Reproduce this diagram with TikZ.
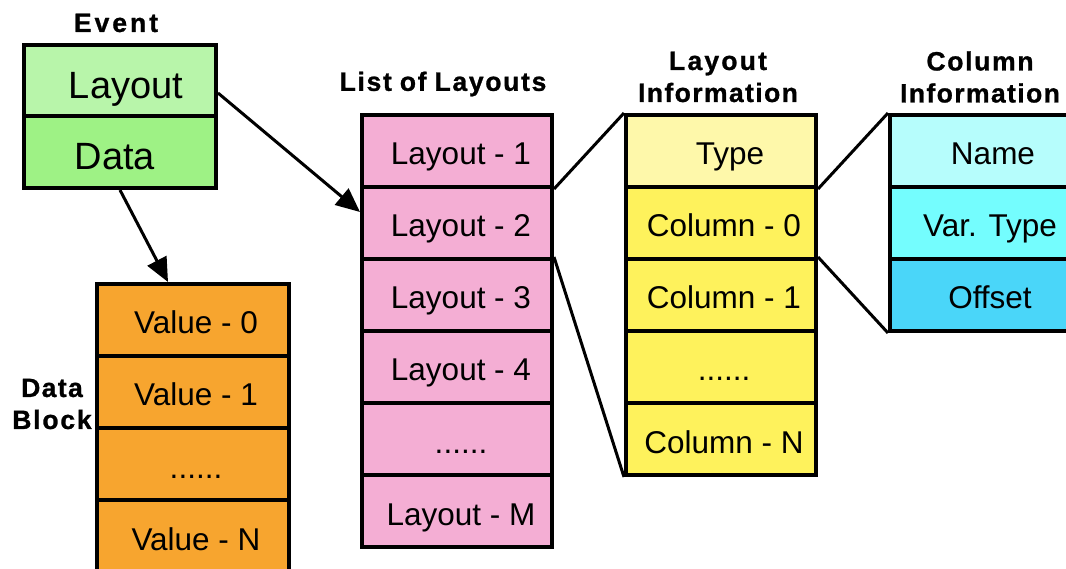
\documentclass[tikz,border=0pt]{standalone}
\usepackage{fontspec}
\setmainfont{Liberation Sans}[BoldFeatures={FakeBold=1}]
\usetikzlibrary{arrows.meta}

% letter-spaced words for the headings
\makeatletter
\newcommand\spaceout[2][2pt]{\@tfor\sp@c:=#2\do{\sp@c\kern#1}\unkern}
\makeatother
\newcommand\wgap{\hspace{8pt}}

\definecolor{evlay}{HTML}{B8F5AA}
\definecolor{evdat}{HTML}{9EF285}
\definecolor{dblk}{HTML}{F7A52F}
\definecolor{lpink}{HTML}{F4AED4}
\definecolor{ltype}{HTML}{FEF8AA}
\definecolor{lcol}{HTML}{FEF25C}
\definecolor{cname}{HTML}{B6FDFC}
\definecolor{cvar}{HTML}{74FDFE}
\definecolor{coff}{HTML}{4AD6F9}

\tikzset{
  cell/.style={draw=black, line width=4pt, minimum width=190pt,
    minimum height=72pt, inner sep=0pt, text height=28pt, text depth=0pt,
    font=\fontsize{31.5}{36}\selectfont},
  bigcell/.style={cell, minimum width=192pt},
  evcell/.style={bigcell, text height=36pt, font=\fontsize{38}{44}\selectfont},
  heading/.style={align=center, inner sep=0pt,
    font=\bfseries\fontsize{26.5}{32}\selectfont},
  zoomline/.style={line width=3pt},
  pointer/.style={line width=3pt, -{Triangle[length=24pt,width=21pt]}}
}

\begin{document}
\begin{tikzpicture}[x=1pt, y=-1pt]
  \clip (0,0) rectangle (1066,569);
  \fill[white] (0,0) rectangle (1066,569);

  % Event record
  \node[heading] (evhead) at (116,23) {\spaceout[3pt]{Event}};
  \node[evcell, fill=evlay] (evl) at (120,81) {\hspace*{12pt}Layout};
  \node[evcell, fill=evdat] (evd) at (120,152) {Data\hspace*{10pt}};

  % Data block
  \node[heading] (dbhead) at (52,404) {\spaceout[1.4pt]{Data}\\\spaceout[1.8pt]{Block}};
  \node[bigcell, fill=dblk] (db0) at (193,320) {\hspace*{6pt}Value - 0};
  \node[bigcell, fill=dblk] (db1) at (193,392) {\hspace*{6pt}Value - 1};
  \node[bigcell, fill=dblk] (db2) at (193,464) {\hspace*{6pt}......};
  \node[bigcell, fill=dblk] (db3) at (193,536) {\hspace*{6pt}Value - N};

  % List of layouts
  \node[heading] (lhead) at (443,84) {\spaceout[1.7pt]{List}\wgap\spaceout[1.7pt]{of}\wgap\spaceout[1.7pt]{Layouts}};
  \node[cell, fill=lpink] (l1) at (457,151) {\hspace*{8pt}Layout - 1};
  \node[cell, fill=lpink] (l2) at (457,223) {\hspace*{8pt}Layout - 2};
  \node[cell, fill=lpink] (l3) at (457,295) {\hspace*{8pt}Layout - 3};
  \node[cell, fill=lpink] (l4) at (457,367) {\hspace*{8pt}Layout - 4};
  \node[cell, fill=lpink] (l5) at (457,439) {\hspace*{8pt}......};
  \node[cell, fill=lpink] (l6) at (457,511) {\hspace*{8pt}Layout - M};

  % Layout information
  \node[heading] (lihead) at (718,77) {\spaceout[2.2pt]{Layout}\\\spaceout[1.4pt]{Information}};
  \node[cell, fill=ltype] (lt) at (721,151) {\hspace*{18pt}Type};
  \node[cell, fill=lcol] (c0) at (721,223) {\hspace*{6pt}Column - 0};
  \node[cell, fill=lcol] (c1) at (721,295) {\hspace*{6pt}Column - 1};
  \node[cell, fill=lcol] (c2) at (721,367) {\hspace*{6pt}......};
  \node[cell, fill=lcol] (cn) at (721,439) {\hspace*{6pt}Column - N};

  % Column information
  \node[heading] (cihead) at (980,77) {\spaceout[1.7pt]{Column}\\\spaceout[1.4pt]{Information}};
  \node[cell, minimum width=200pt, fill=cname] (cnm) at (990,151) {\hspace*{6pt}Name};
  \node[cell, minimum width=200pt, fill=cvar] (cvt) at (990,223) {Var. Type};
  \node[cell, minimum width=200pt, fill=coff] (cof) at (990,295) {Offset};

  % Pointers
  \draw[pointer] ([yshift=-12pt]evl.east) -- ([yshift=11pt]l2.west);
  \draw[pointer] (evd.south) -- ([xshift=-25pt]db0.north);

  % Expansion lines
  \draw[zoomline] (l1.south east) -- (lt.north west);
  \draw[zoomline] (l3.north east) -- (cn.south west);
  \draw[zoomline] (lt.south east) -- (cnm.north west);
  \draw[zoomline] (c1.north east) -- (cof.south west);
\end{tikzpicture}
\end{document}
